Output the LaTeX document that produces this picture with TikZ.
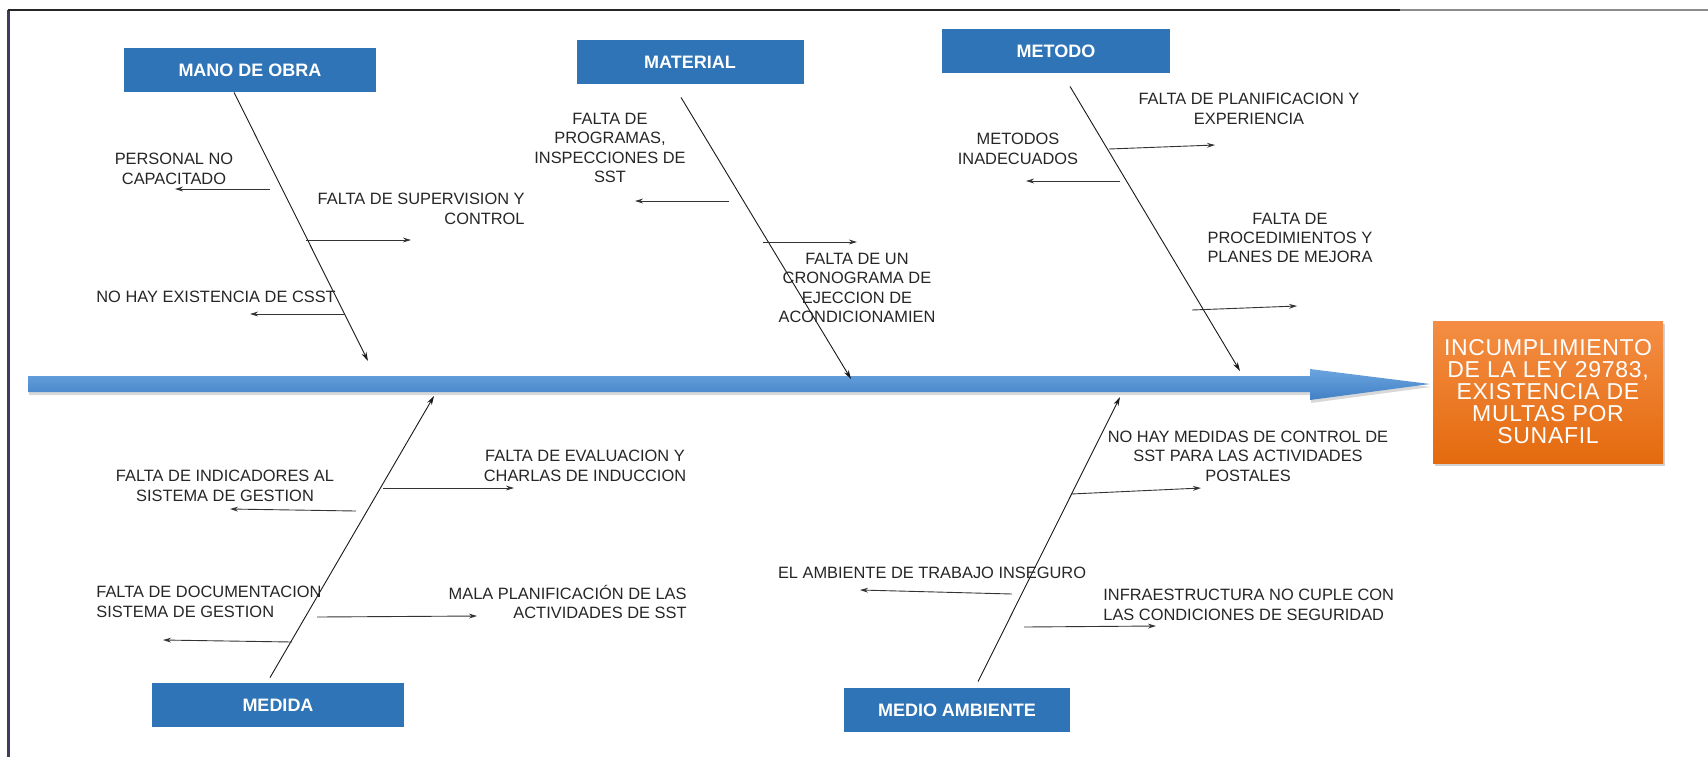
\documentclass[tikz,border=0pt]{standalone}
\usepackage{fontspec}
\setmainfont{Liberation Sans}
\usetikzlibrary{arrows.meta,shadows,calc}

\definecolor{catblue}{RGB}{46,116,182}
\definecolor{spinetop}{RGB}{106,165,224}
\definecolor{spinebot}{RGB}{66,128,196}
\definecolor{efftop}{RGB}{244,142,68}
\definecolor{effbot}{RGB}{228,106,14}
\definecolor{framenavy}{RGB}{62,60,96}

\tikzset{
	catbox/.style={fill=catblue, text=white, minimum height=22pt, inner sep=0pt, font=\fontsize{9}{10}\selectfont\bfseries},
	effbox/.style={top color=efftop, bottom color=effbot, text=white, minimum width=115pt, minimum height=71pt, inner sep=0pt, align=center, font=\fontsize{11.5}{11}\selectfont\addfontfeatures{LetterSpace=3}, drop shadow={opacity=0.35, shadow xshift=1pt, shadow yshift=-1.5pt}},
	cause/.style={inner sep=0pt, text=black!85, font=\fontsize{8.2}{9.7}\selectfont},
	bone/.style={black!90, line width=0.45pt, -{Stealth[length=4.5pt, width=2.6pt]}},
	sub/.style={black!80, line width=0.45pt, -{Stealth[length=4pt, width=2.4pt]}}
}

\begin{document}
\begin{tikzpicture}[x=0.5pt, y=-0.5pt]
		\useasboundingbox (0,0) rectangle (1708,757);
		\fill[white] (0,0) rectangle (1708,757);

		\draw[framenavy, line width=1.5pt] (8,10) -- (8,757);
		\draw[black!85, line width=1.3pt] (8,10) -- (1400,10);
		\draw[black!45, line width=1.3pt] (1400,10) -- (1708,10);

		\shade[top color=spinetop, bottom color=spinebot, drop shadow={opacity=0.3, shadow xshift=0.5pt, shadow yshift=-1.5pt}]
			(28,376) -- (1310,376) -- (1310,369) -- (1430,384) -- (1310,400) -- (1310,392) -- (28,392) -- cycle;

		\draw (1548,392) node[effbox] (efecto) {INCUMPLIMIENTO\\DE LA LEY 29783,\\EXISTENCIA DE\\MULTAS POR\\SUNAFIL};

		\draw (250,70) node[catbox, minimum width=126pt] (mano) {MANO DE OBRA};
		\draw (690,62) node[catbox, minimum width=113.5pt] (material) {MATERIAL};
		\draw (1056,51) node[catbox, minimum width=114pt] (metodo) {METODO};
		\draw (278,705) node[catbox, minimum width=126pt] (medida) {MEDIDA};
		\draw (957,710) node[catbox, minimum width=113pt] (medio) {MEDIO AMBIENTE};

		\coordinate (manoS) at ($(mano.south)+(-16,0)$);
		\coordinate (manoE) at (368,361);
		\coordinate (materialS) at ($(material.south)+(-9,13)$);
		\coordinate (materialE) at (851,379);
		\coordinate (metodoS) at ($(metodo.south)+(14,13)$);
		\coordinate (metodoE) at (1240,371);
		\coordinate (medidaS) at ($(medida.north)+(-8,-5)$);
		\coordinate (medidaE) at (434,396);
		\coordinate (medioS) at ($(medio.north)+(21,-6)$);
		\coordinate (medioE) at (1120,397);

		\draw[bone] (manoS) -- (manoE);
		\draw[bone] (materialS) -- (materialE);
		\draw[bone] (metodoS) -- (metodoE);
		\draw[bone] (medidaS) -- (medidaE);
		\draw[bone] (medioS) -- (medioE);

		\draw (174,169) node[cause, align=center] (personal) {PERSONAL NO\\CAPACITADO};
		\draw (525,209) node[cause, align=right, anchor=east] (supervision) {FALTA DE SUPERVISION Y\\CONTROL};
		\draw (96,297) node[cause, anchor=west] (csst) {NO HAY EXISTENCIA DE CSST};
		\coordinate (p1) at (270,189); \coordinate (q1) at (175,189);
		\coordinate (p2) at (306,240); \coordinate (q2) at (411,240);
		\coordinate (p3) at (345,314); \coordinate (q3) at (250,314);
		\draw[sub] (p1) -- (q1);
		\draw[sub] (p2) -- (q2);
		\draw[sub] (p3) -- (q3);

		\draw (610,148) node[cause, align=center] (programas) {FALTA DE\\PROGRAMAS,\\INSPECCIONES DE\\SST};
		\draw (857,288) node[cause, align=center] (cronograma) {FALTA DE UN\\CRONOGRAMA DE\\EJECCION DE\\ACONDICIONAMIEN};
		\coordinate (p4) at (729,201); \coordinate (q4) at (635,201);
		\coordinate (p5) at (763,242); \coordinate (q5) at (857,242);
		\draw[sub] (p4) -- (q4);
		\draw[sub] (p5) -- (q5);

		\draw (1249,109) node[cause, align=center] (planificacion) {FALTA DE PLANIFICACION Y\\EXPERIENCIA};
		\draw (1018,149) node[cause, align=center] (metodos) {METODOS\\INADECUADOS};
		\draw (1290,238) node[cause, align=center] (procedimientos) {FALTA DE\\PROCEDIMIENTOS Y\\PLANES DE MEJORA};
		\coordinate (p6) at (1109,149); \coordinate (q6) at (1215,145);
		\coordinate (p7) at (1120,181); \coordinate (q7) at (1026,181);
		\coordinate (p8) at (1192,310); \coordinate (q8) at (1297,306);
		\draw[sub] (p6) -- (q6);
		\draw[sub] (p7) -- (q7);
		\draw[sub] (p8) -- (q8);

		\draw (225,486) node[cause, align=center] (indicadores) {FALTA DE INDICADORES AL\\SISTEMA DE GESTION};
		\draw (585,466) node[cause, align=center] (evaluacion) {FALTA DE EVALUACION Y\\CHARLAS DE INDUCCION};
		\draw (96,602) node[cause, align=left, anchor=west] (documentacion) {FALTA DE DOCUMENTACION\\SISTEMA DE GESTION};
		\draw (687,602) node[cause, align=right, anchor=east] (mala) {MALA PLANIFICACIÓN DE LAS\\ACTIVIDADES DE SST};
		\coordinate (p9) at (356,511); \coordinate (q9) at (230,509);
		\coordinate (p10) at (383,488); \coordinate (q10) at (514,488);
		\coordinate (p11) at (292,642); \coordinate (q11) at (163,640);
		\coordinate (p12) at (317,617); \coordinate (q12) at (477,616);
		\draw[sub] (p9) -- (q9);
		\draw[sub] (p10) -- (q10);
		\draw[sub] (p11) -- (q11);
		\draw[sub] (p12) -- (q12);

		\draw (1248,456) node[cause, align=center] (medidas) {NO HAY MEDIDAS DE CONTROL DE\\SST PARA LAS ACTIVIDADES\\POSTALES};
		\draw (932,573) node[cause] (inseguro) {EL AMBIENTE DE TRABAJO INSEGURO};
		\draw (1103,605) node[cause, align=left, anchor=west] (infraestructura) {INFRAESTRUCTURA NO CUPLE CON\\LAS CONDICIONES DE SEGURIDAD};
		\coordinate (p13) at (1071,494); \coordinate (q13) at (1201,488);
		\coordinate (p14) at (1012,594); \coordinate (q14) at (860,590);
		\coordinate (p15) at (1024,627); \coordinate (q15) at (1156,626);
		\draw[sub] (p13) -- (q13);
		\draw[sub] (p14) -- (q14);
		\draw[sub] (p15) -- (q15);
	\end{tikzpicture}
\end{document}
